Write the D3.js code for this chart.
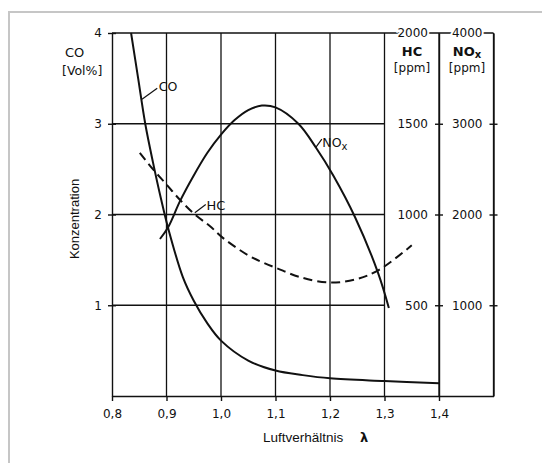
<!DOCTYPE html>
<html>
<head>
<meta charset="utf-8">
<script src="https://cdn.jsdelivr.net/npm/d3@7"></script>
<style>
  body { margin: 0; background: #fff; }
  text { font-family: "DejaVu Sans", sans-serif; fill: #111; }
  .axis path, .axis line { stroke: #111; stroke-width: 1.4; }
  .grid { stroke: #111; stroke-width: 1.3; }
  .curve { fill: none; stroke: #111; stroke-width: 2; }
</style>
</head>
<body>
<svg id="chart" width="542" height="463"></svg>
<script>
// tick values
var lambdaTicks = [0.8, 0.9, 1.0, 1.1, 1.2, 1.3, 1.4];
var coTicks = [1, 2, 3, 4];
var hcTicks = [500, 1000, 1500, 2000];
var noxTicks = [1000, 2000, 3000, 4000];

// CO [Vol%] over lambda
var coLambda = [0.835, 0.848, 0.861, 0.875, 0.89, 0.903, 0.93, 0.95, 0.975, 1.0, 1.05, 1.1, 1.15, 1.2, 1.3, 1.4];
var coVol    = [4.0, 3.5, 3.0, 2.58, 2.17, 1.85, 1.31, 1.05, 0.80, 0.61, 0.39, 0.28, 0.23, 0.195, 0.165, 0.14];

// NOx [ppm] over lambda
var noxLambda = [0.888, 0.903, 0.925, 0.95, 0.975, 1.0, 1.025, 1.05, 1.075, 1.1, 1.142, 1.175, 1.206, 1.246, 1.288, 1.308];
var noxPpm    = [1730, 1860, 2150, 2430, 2680, 2880, 3040, 3150, 3200, 3180, 3000, 2730, 2430, 1970, 1360, 970];

// HC [ppm] over lambda
var hcLambda = [0.851, 0.875, 0.9, 0.925, 0.952, 0.98, 1.004, 1.05, 1.075, 1.102, 1.145, 1.2, 1.25, 1.29, 1.35];
var hcPpm    = [1340, 1250, 1165, 1080, 1000, 935, 870, 775, 738, 705, 655, 625, 645, 695, 830];

var svg = d3.select("#chart");

// light frame round the figure
svg.append("rect")
    .attr("x", 9).attr("y", 12)
    .attr("width", 600).attr("height", 500)
    .attr("fill", "none")
    .attr("stroke", "#c6c6c6")
    .attr("stroke-width", 2);

var x = d3.scaleLinear().domain([0.8, 1.5]).range([112, 493.5]);
var y = d3.scaleLinear().domain([0, 4]).range([396, 33]);
var yHC = d3.scaleLinear().domain([0, 2000]).range([396, 33]);
var yNOx = d3.scaleLinear().domain([0, 4000]).range([396, 33]);

var comma = function (d) { return d3.format(".1f")(d).replace(".", ","); };
var plain = d3.format("d");

// grid
svg.append("g").selectAll("line")
    .data(lambdaTicks.slice(1))
    .enter().append("line")
    .attr("class", "grid")
    .attr("x1", function (d) { return x(d); })
    .attr("x2", function (d) { return x(d); })
    .attr("y1", y(0)).attr("y2", y(4));

svg.append("g").selectAll("line")
    .data(coTicks.slice(0, 3))
    .enter().append("line")
    .attr("class", "grid")
    .attr("x1", x(0.8)).attr("x2", x(1.3))
    .attr("y1", function (d) { return y(d); })
    .attr("y2", function (d) { return y(d); });

// top edge and outer NOx line
svg.append("line").attr("class", "grid")
    .attr("x1", x(0.8)).attr("x2", x(1.5))
    .attr("y1", y(4)).attr("y2", y(4));
svg.append("line").attr("class", "grid")
    .attr("x1", x(1.5)).attr("x2", x(1.5))
    .attr("y1", y(4)).attr("y2", y(0));

// bottom axis
var xAxis = svg.append("g")
    .attr("class", "axis")
    .attr("transform", "translate(0," + y(0) + ")")
    .call(d3.axisBottom(x).tickValues(lambdaTicks).tickFormat(comma)
        .tickSize(5).tickSizeOuter(0).tickPadding(8));
xAxis.selectAll("text").style("font-size", "12px").attr("fill", "#111");

// left CO axis
var coAxis = svg.append("g")
    .attr("class", "axis")
    .attr("transform", "translate(" + x(0.8) + ",0)")
    .call(d3.axisLeft(y).tickValues(coTicks).tickFormat(plain)
        .tickSize(4).tickSizeOuter(0).tickPadding(6));
coAxis.selectAll(".tick line").attr("x1", 4);
coAxis.selectAll("text").style("font-size", "12px").attr("fill", "#111");

// right HC and NOx axes, labels sit to the left of each line
function rightAxis(scale, ticks, lam) {
  var g = svg.append("g")
      .attr("class", "axis")
      .attr("transform", "translate(" + x(lam) + ",0)")
      .call(d3.axisLeft(scale).tickValues(ticks).tickFormat(plain)
          .tickSize(4).tickSizeOuter(0).tickPadding(7));
  g.selectAll(".tick line").attr("x1", 4);
  g.selectAll("text").style("font-size", "12px").attr("fill", "#111");
  // the top value breaks the frame line
  g.selectAll("text").filter(function (d, i) { return i === ticks.length - 1; })
      .attr("stroke", "#fff").attr("stroke-width", 4)
      .style("paint-order", "stroke");
  g.selectAll(".tick line").filter(function (d, i) { return i === ticks.length - 1; }).remove();
}
rightAxis(yHC, hcTicks, 1.4);
rightAxis(yNOx, noxTicks, 1.5);

// curves
var line = d3.line().curve(d3.curveCatmullRom.alpha(0.5));

svg.append("path").attr("class", "curve")
    .attr("d", line(coLambda.map(function (l, i) { return [x(l), y(coVol[i])]; })));

svg.append("path").attr("class", "curve")
    .attr("d", line(noxLambda.map(function (l, i) { return [x(l), yNOx(noxPpm[i])]; })));

svg.append("path").attr("class", "curve")
    .attr("stroke-dasharray", "9,5")
    .attr("d", line(hcLambda.map(function (l, i) { return [x(l), yHC(hcPpm[i])]; })));

// curve labels with leaders (lambda, CO-scale value)
var leaders = [
  [[0.855, 3.27], [0.883, 3.39]],
  [[0.952, 2.02], [0.972, 2.11]],
  [[1.174, 2.74], [1.185, 2.83]]
];
svg.append("g").selectAll("line")
    .data(leaders)
    .enter().append("line")
    .attr("stroke", "#111").attr("stroke-width", 1.2)
    .attr("x1", function (d) { return x(d[0][0]); })
    .attr("y1", function (d) { return y(d[0][1]); })
    .attr("x2", function (d) { return x(d[1][0]); })
    .attr("y2", function (d) { return y(d[1][1]); });

svg.append("text").attr("x", x(0.886)).attr("y", y(3.36))
    .style("font-size", "12.5px").text("CO");
svg.append("text").attr("x", x(0.9735)).attr("y", y(2.055))
    .style("font-size", "13px").text("HC");
var noxLabel = svg.append("text").attr("x", x(1.186)).attr("y", y(2.74))
    .style("font-size", "12.5px");
noxLabel.append("tspan").text("NO");
noxLabel.append("tspan").attr("dy", 3).style("font-size", "10px").text("x");

// axis titles
svg.append("text").attr("x", 65).attr("y", 57)
    .style("font-size", "13px").text("CO");
svg.append("text").attr("x", 62).attr("y", 75)
    .style("font-size", "12.5px").text("[Vol%]");

var hcTitle = svg.append("g").attr("text-anchor", "middle");
hcTitle.append("text").attr("x", 412).attr("y", 56)
    .style("font-size", "13px").style("font-weight", "bold").text("HC");
hcTitle.append("text").attr("x", 412).attr("y", 72)
    .style("font-size", "12px").text("[ppm]");

var noxTitle = svg.append("g").attr("text-anchor", "middle");
var nt = noxTitle.append("text").attr("x", 467).attr("y", 56)
    .style("font-size", "13px").style("font-weight", "bold");
nt.append("tspan").text("NO");
nt.append("tspan").attr("dy", 2).style("font-size", "10px").text("x");
noxTitle.append("text").attr("x", 467).attr("y", 72)
    .style("font-size", "12px").text("[ppm]");

svg.append("text")
    .attr("transform", "translate(79,219) rotate(-90)")
    .attr("text-anchor", "middle")
    .style("font-family", "'Liberation Sans', Arial, sans-serif")
    .style("font-size", "13px")
    .text("Konzentration");

svg.append("text").attr("x", 263).attr("y", 442)
    .style("font-family", "'Liberation Sans', Arial, sans-serif")
    .style("font-size", "13.5px")
    .text("Luftverhältnis");
svg.append("text").attr("x", 360).attr("y", 442)
    .style("font-size", "13px").style("font-weight", "bold")
    .text("λ");
</script>
</body>
</html>
